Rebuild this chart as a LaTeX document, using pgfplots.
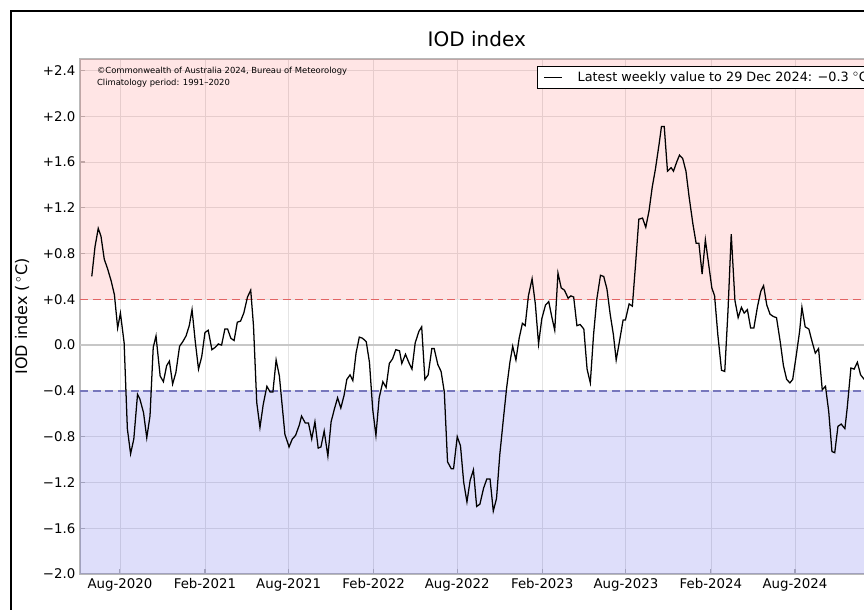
\documentclass[border=0pt]{standalone}
\usepackage{fontspec}
\setmainfont{DejaVu Sans}
\usepackage{pgfplots}
\usepackage{pgfplotstable}
\pgfplotsset{compat=1.18}
\definecolor{warmdash}{RGB}{226,100,100}
\definecolor{cooldash}{RGB}{118,118,188}
\definecolor{spine}{RGB}{185,185,185}
\definecolor{gridgray}{RGB}{228,228,228}

% weekly IOD values, x = days since 1 Jan 2020
\pgfplotstableread{
day iod
152 0.60
159 0.86
166 1.02
172 0.95
179 0.75
186 0.67
194 0.56
201 0.44
208 0.15
214 0.28
222 0.02
229 -0.73
236 -0.95
243 -0.82
251 -0.43
256 -0.47
264 -0.59
271 -0.81
278 -0.62
285 -0.02
291 0.08
300 -0.27
307 -0.32
314 -0.18
320 -0.14
327 -0.34
334 -0.24
342 -0.01
349 0.03
356 0.08
363 0.17
369 0.31
376 0.03
383 -0.21
390 -0.10
397 0.11
404 0.13
412 -0.04
419 -0.02
426 0.01
433 0.00
440 0.14
446 0.14
453 0.06
460 0.04
467 0.20
474 0.21
481 0.28
489 0.42
496 0.48
502 0.17
509 -0.50
516 -0.72
523 -0.52
531 -0.36
538 -0.41
544 -0.41
551 -0.13
558 -0.27
570 -0.78
579 -0.89
586 -0.82
593 -0.79
601 -0.70
606 -0.62
614 -0.68
621 -0.68
628 -0.82
635 -0.67
642 -0.90
648 -0.89
655 -0.75
663 -0.97
670 -0.67
677 -0.56
684 -0.46
691 -0.55
698 -0.44
704 -0.30
711 -0.26
717 -0.31
724 -0.07
731 0.07
738 0.06
746 0.03
753 -0.15
760 -0.56
767 -0.79
774 -0.46
782 -0.32
789 -0.37
796 -0.16
803 -0.12
810 -0.04
818 -0.05
823 -0.16
831 -0.08
838 -0.15
845 -0.21
852 0.02
860 0.12
866 0.16
873 -0.30
880 -0.26
888 -0.03
893 -0.03
901 -0.17
908 -0.23
915 -0.41
922 -1.02
930 -1.08
935 -1.08
943 -0.80
950 -0.88
957 -1.20
964 -1.37
971 -1.18
978 -1.09
985 -1.41
992 -1.39
1000 -1.25
1007 -1.17
1014 -1.17
1021 -1.45
1028 -1.34
1035 -0.96
1043 -0.64
1050 -0.37
1057 -0.15
1063 -0.01
1070 -0.13
1077 0.06
1084 0.19
1090 0.17
1097 0.43
1105 0.58
1112 0.36
1119 0.01
1126 0.23
1134 0.35
1141 0.38
1148 0.24
1154 0.13
1161 0.63
1168 0.50
1175 0.48
1183 0.41
1189 0.43
1195 0.42
1202 0.17
1209 0.18
1217 0.14
1224 -0.21
1231 -0.33
1238 0.09
1245 0.40
1253 0.61
1260 0.60
1267 0.49
1274 0.27
1281 0.09
1287 -0.13
1294 0.03
1302 0.22
1307 0.22
1315 0.36
1322 0.34
1329 0.71
1336 1.10
1344 1.11
1351 1.03
1358 1.17
1365 1.38
1372 1.54
1380 1.76
1385 1.91
1391 1.91
1398 1.52
1406 1.55
1411 1.52
1418 1.60
1424 1.66
1431 1.63
1438 1.52
1445 1.29
1453 1.06
1460 0.89
1466 0.89
1473 0.62
1480 0.92
1487 0.71
1494 0.50
1500 0.43
1507 0.09
1515 -0.22
1522 -0.23
1529 0.30
1536 0.97
1544 0.39
1551 0.24
1558 0.33
1564 0.28
1571 0.31
1578 0.15
1585 0.15
1593 0.34
1600 0.47
1606 0.52
1613 0.35
1620 0.27
1627 0.25
1634 0.24
1642 0.03
1649 -0.18
1656 -0.30
1663 -0.33
1669 -0.30
1676 -0.11
1684 0.12
1689 0.33
1696 0.16
1704 0.14
1711 0.03
1718 -0.07
1725 -0.03
1733 -0.39
1740 -0.36
1747 -0.58
1754 -0.93
1760 -0.94
1767 -0.71
1774 -0.69
1782 -0.73
1787 -0.55
1795 -0.20
1802 -0.21
1809 -0.15
1816 -0.26
1824 -0.30
}\iodweekly

\begin{document}
\begin{tikzpicture}
% the reference is a crop: keep 864x610 px (1px = 0.75pt) and clip the rest
\useasboundingbox (0,0) rectangle (648pt,457.5pt);
\clip (0,0) rectangle (648pt,457.5pt);
\draw[line width=1.5pt] (8.25pt,-30pt) rectangle (700pt,449.25pt);
\begin{axis}[
  at={(60pt,27pt)}, anchor=south west,
  scale only axis, width=600pt, height=386.25pt,
  xmin=126.5, xmax=1858, ymin=-2.0, ymax=2.5,
  xtick={213,397,578,762,943,1127,1308,1492,1674},
  xticklabels={Aug-2020,Feb-2021,Aug-2021,Feb-2022,Aug-2022,Feb-2023,Aug-2023,Feb-2024,Aug-2024},
  ytick={-2.0,-1.6,-1.2,-0.8,-0.4,0,0.4,0.8,1.2,1.6,2.0,2.4},
  yticklabels={−2.0,−1.6,−1.2,−0.8,−0.4,0.0,+0.4,+0.8,+1.2,+1.6,+2.0,+2.4},
  tick pos=left, tick align=inside, major tick length=4pt,
  every tick/.style={spine, line width=0.8pt},
  axis line style={spine, line width=0.9pt},
  grid=major, grid style={gridgray, line width=0.6pt},
  tick label style={font=\fontsize{10}{12}\selectfont},
  title={IOD index},
  title style={font=\fontsize{15}{18}\selectfont, at={(0.496,1)}},
  ylabel={IOD index (\,$^\circ$C)},
  ylabel style={font=\fontsize{12}{14}\selectfont, at={(axis description cs:-0.0725,0.5)}, anchor=center},
  legend style={at={(0.997,0.986)}, anchor=north east, draw=black, line width=0.6pt,
    font=\fontsize{9.6}{11.6}\selectfont, inner xsep=5pt, inner ysep=1.8pt},
  legend image code/.code={\draw[#1] (0pt,0pt) -- (13.5pt,0pt);},
  legend cell align=left,
]
  \addplot[draw=none, fill=red, fill opacity=0.1, forget plot]
    coordinates {(126.5,0.4) (1858,0.4) (1858,2.5) (126.5,2.5)} -- cycle;
  \addplot[draw=none, fill=blue!85!black, fill opacity=0.13, forget plot]
    coordinates {(126.5,-2.0) (1858,-2.0) (1858,-0.4) (126.5,-0.4)} -- cycle;
  \addplot[black!22, line width=1.4pt, forget plot] coordinates {(126.5,0) (1858,0)};
  \addplot[warmdash, dash pattern=on 6pt off 3.5pt, line width=1.1pt, forget plot]
    coordinates {(126.5,0.4) (1858,0.4)};
  \addplot[cooldash, dash pattern=on 6pt off 3.5pt, line width=1.1pt, forget plot]
    coordinates {(126.5,-0.4) (1858,-0.4)};
  \addplot[black, line width=0.95pt] table[x=day, y=iod] {\iodweekly};
  \addlegendentry{\hspace{9pt}Latest weekly value to 29 Dec 2024: −0.3 $^\circ$C}
  \node[anchor=north west, align=left, inner sep=0pt, font=\fontsize{6.3}{9.2}\selectfont]
    at (rel axis cs:0.021,0.985)
    {©Commonwealth of Australia 2024, Bureau of Meteorology\\Climatology period: 1991–2020};
\end{axis}
\end{tikzpicture}
\end{document}
